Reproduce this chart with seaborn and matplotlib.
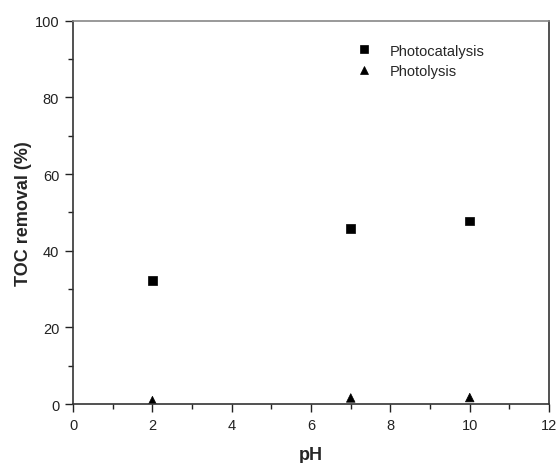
import matplotlib
matplotlib.use("Agg")
import matplotlib.pyplot as plt
from matplotlib.ticker import MultipleLocator
import seaborn as sns
import pandas as pd

ph = [2, 7, 10]
photocatalysis = [32.3, 45.8, 47.8]
photolysis = [0.9, 1.6, 1.7]
series_names = ["Photocatalysis", "Photolysis"]

df = pd.DataFrame({
    "pH": ph + ph,
    "TOC": photocatalysis + photolysis,
    "Series": [series_names[0]] * 3 + [series_names[1]] * 3,
})

sns.set_style("ticks")
plt.rcParams['font.family'] = ['Liberation Sans', 'DejaVu Sans']

fig = plt.figure(figsize=(5.58, 4.64), dpi=100)
ax = fig.add_axes([0.131, 0.127, 0.853, 0.826])

sns.scatterplot(data=df, x="pH", y="TOC", hue="Series", style="Series",
                markers={"Photocatalysis": "s", "Photolysis": "^"},
                palette={"Photocatalysis": "black", "Photolysis": "black"},
                s=38, edgecolor="black", linewidth=0.5, ax=ax, legend=True)

ax.set_xlim(0, 12)
ax.set_ylim(0, 100)
ax.xaxis.set_major_locator(MultipleLocator(2))
ax.xaxis.set_minor_locator(MultipleLocator(1))
ax.yaxis.set_major_locator(MultipleLocator(20))
ax.yaxis.set_minor_locator(MultipleLocator(10))
ax.tick_params(which="major", direction="out", length=6, width=1, labelsize=10.5,
               colors="#222222", pad=4)
ax.tick_params(which="minor", direction="out", length=3.5, width=1, colors="#222222")

for side in ["left", "bottom", "right"]:
    ax.spines[side].set_visible(True)
    ax.spines[side].set_color("#333333")
    ax.spines[side].set_linewidth(1.2)
ax.spines["top"].set_visible(True)
ax.spines["top"].set_color("#888888")
ax.spines["top"].set_linewidth(1.2)

ax.set_xlabel("pH", fontsize=13, fontweight="bold", labelpad=10)
ax.set_ylabel("TOC removal (%)", fontsize=13, fontweight="bold", labelpad=2)

leg = ax.legend(loc="upper left", bbox_to_anchor=(0.552, 0.975), frameon=False,
                fontsize=10.5, handletextpad=0.8, labelspacing=0.45, markerscale=0.9)

fig.savefig("out.png", dpi=100)
